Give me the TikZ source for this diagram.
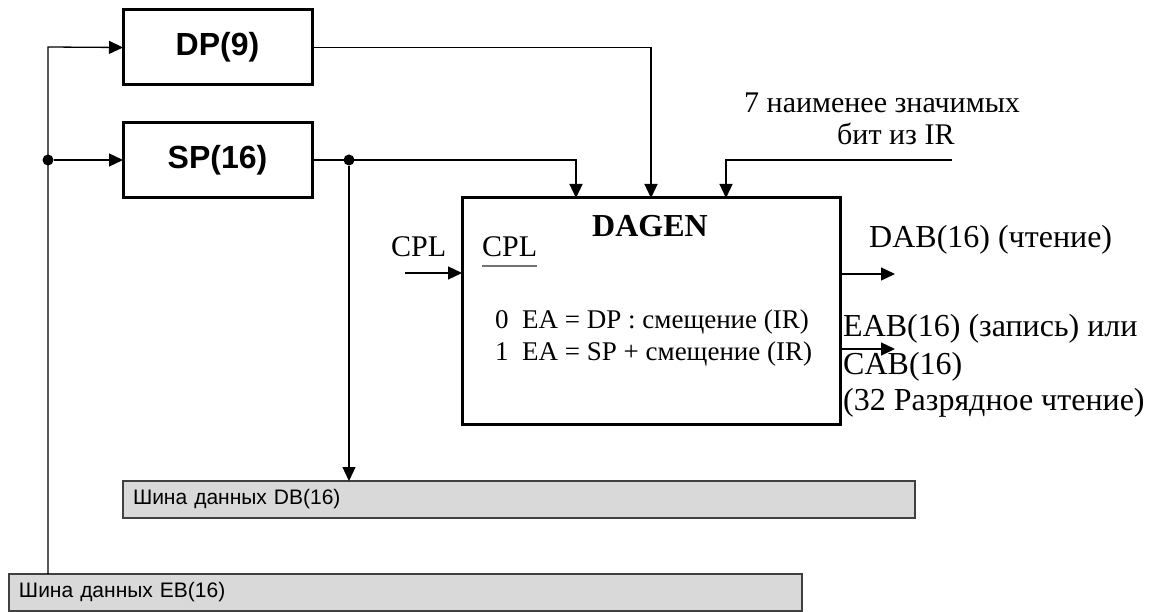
\documentclass[tikz,border=0pt]{standalone}
\usepackage{fontspec}
\setmainfont{Liberation Serif}
\setsansfont{Liberation Sans}
\usetikzlibrary{arrows.meta}
\begin{document}
\begin{tikzpicture}[x=1pt,y=-1pt,
  conn/.style={line width=1.3pt},
  arr/.style={conn,-{Triangle[length=14pt,width=13pt]}},
  regbox/.style={draw,line width=3pt,outer sep=0pt,minimum width=189pt,minimum height=75pt,inner sep=0pt,
    font=\sffamily\bfseries\fontsize{32}{36}\selectfont},
  genbox/.style={draw,line width=3pt,outer sep=0pt,minimum width=378pt,minimum height=226pt,inner sep=0pt},
  busbar/.style={draw=black!75,fill=black!15,line width=1.2pt,outer sep=0pt,inner xsep=10pt,inner ysep=0pt,
    minimum height=37pt,align=left,anchor=north west,font=\sffamily\fontsize{21}{24}\selectfont},
  dot/.style={circle,fill,inner sep=0pt,minimum size=11pt},
  toplbl/.style={inner sep=0pt,anchor=base west,font=\fontsize{30}{35}\selectfont},
  lbl/.style={inner sep=0pt,anchor=base west,font=\fontsize{32}{36}\selectfont},
  cpllbl/.style={inner sep=0pt,anchor=base west,font=\fontsize{30}{34}\selectfont},
  inlbl/.style={inner sep=0pt,anchor=base west,font=\fontsize{27}{31}\selectfont}
]
\useasboundingbox (0,0) rectangle (1154,612);

% registers and generator
\node[regbox] (dp) at (217.5,47.5) {DP(9)};
\node[regbox] (sp) at (217.5,160) {SP(16)};
\node[genbox] (dagen) at (651,311) {};

% buses
\node[busbar,text width=772pt] (db) at (123,481) {Шина данных DB(16)};
\node[busbar,text width=773pt] (eb) at (9,574) {Шина данных EB(16)};

% junctions and free ends
\coordinate (lt) at (48,47);
\node[dot] (ldot) at (48,160) {};
\node[dot] (spdot) at (349,160) {};
\coordinate (irsrc) at (952,160);
\coordinate (cplin) at (405,273);
\coordinate (dabout) at (895,274);
\coordinate (eabout) at (895,349);

% connectors
\draw[arr] (lt |- eb.north) -- (lt) -- (dp.west);
\draw[arr] (ldot) -- (sp.west);
\draw[arr] (dp.east) -| (dagen.north);
\draw[arr] (sp.east) -| ([xshift=-75pt]dagen.north);
\draw[arr] (spdot) -- (spdot |- db.north);
\draw[arr] (irsrc) -| ([xshift=75pt]dagen.north);
\draw[arr] (cplin) -- (cplin -| dagen.west);
\draw[arr] (dabout -| dagen.east) -- (dabout);
\draw[arr] (eabout -| dagen.east) -- (eabout);

% texts
\node[toplbl] (t7) at (744,113) {7 наименее значимых};
\node[toplbl] (tbit) at (837,145) {бит из IR};
\node[inner sep=0pt,anchor=base,font=\bfseries\fontsize{32}{36}\selectfont] (title) at (650,237) {DAGEN};
\node[cpllbl] (cplo) at (391,257) {CPL};
\node[cpllbl] (cpli) at (482,257) {CPL};
\draw[line width=1.2pt,black!55] ([yshift=-9pt]cpli.base west) -- ([yshift=-9pt]cpli.base east);
\node[inlbl] (m0) at (495,328) {0\ \ EA = DP : смещение (IR)};
\node[inlbl] (m1) at (495,360) {1\ \ EA = SP + смещение (IR)};
\node[lbl] (dab) at (869,248) {DAB(16) (чтение)};
\node[lbl] (eab) at (843,337) {EAB(16) (запись) или};
\node[lbl] (cab) at (843,374) {CAB(16)};
\node[lbl] (r32) at (843,410) {(32 Разрядное чтение)};
\end{tikzpicture}
\end{document}
